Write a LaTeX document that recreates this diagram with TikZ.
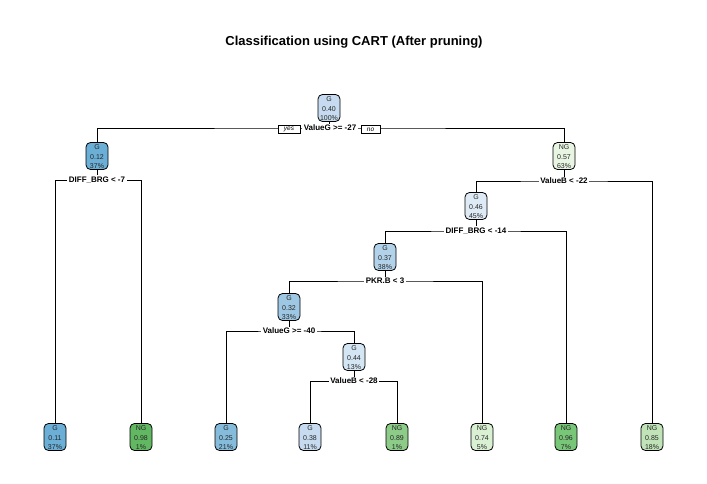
\documentclass[tikz,border=0pt]{standalone}
\usepackage{fontspec}
\setmainfont{Liberation Sans}
\definecolor{txt}{HTML}{262626}
\definecolor{cRoot}{HTML}{C6DBEF}
\definecolor{cA}{HTML}{6BAED6}
\definecolor{cB}{HTML}{E8F5E2}
\definecolor{cC}{HTML}{DEEBF7}
\definecolor{cD}{HTML}{B2D2EA}
\definecolor{cE}{HTML}{9DC7E2}
\definecolor{cF}{HTML}{D4E5F4}
\definecolor{lA}{HTML}{6BAED6}
\definecolor{lB}{HTML}{62B862}
\definecolor{lC}{HTML}{85BCDC}
\definecolor{lD}{HTML}{C6DBEF}
\definecolor{lE}{HTML}{8CCB88}
\definecolor{lF}{HTML}{D9F0D3}
\definecolor{lG}{HTML}{78C678}
\definecolor{lH}{HTML}{C0E4B8}
\newcommand\tn[5]{\node[tbox,fill=#5] (#1) at (#2,#3) {};\node[ttext] (#1t) at (#1.center) {#4};}
\begin{document}
\begin{tikzpicture}[x=1pt,y=-1pt,
  tbox/.style={draw=black, line width=0.8pt, rounded corners=4.5pt, minimum width=22pt, minimum height=27pt, inner sep=0pt},
  ttext/.style={align=center, font=\fontsize{7}{9.5}\selectfont, text=txt, inner sep=0pt, yshift=-0.6pt},
  splitlbl/.style={fill=white, text=black, font=\bfseries\fontsize{8}{9}\selectfont, inner sep=1.5pt},
  edge/.style={draw=black, line width=0.7pt},
  yn/.style={draw=black, fill=white, line width=0.6pt, font=\itshape\fontsize{6.5}{7}\selectfont, minimum height=8pt, inner sep=0.5pt}]
\useasboundingbox (0,0) rectangle (707,484);
\node[font=\bfseries\fontsize{13}{15}\selectfont] (title) at (354,42) {Classification using CART (After pruning)};
% inner nodes
\tn{n1}{329}{108}{G\\0.40\\100\%}{cRoot}
\tn{n2}{97}{156}{G\\0.12\\37\%}{cA}
\tn{n3}{564}{156}{NG\\0.57\\63\%}{cB}
\tn{n4}{476}{206}{G\\0.46\\45\%}{cC}
\tn{n5}{385}{257}{G\\0.37\\38\%}{cD}
\tn{n6}{289}{307}{G\\0.32\\33\%}{cE}
\tn{n7}{354}{357}{G\\0.44\\13\%}{cF}
% leaves
\tn{l1}{55}{437}{G\\0.11\\37\%}{lA}
\tn{l2}{141}{437}{NG\\0.98\\1\%}{lB}
\tn{l3}{226}{437}{G\\0.25\\21\%}{lC}
\tn{l4}{310}{437}{G\\0.38\\11\%}{lD}
\tn{l5}{397}{437}{NG\\0.89\\1\%}{lE}
\tn{l6}{482}{437}{NG\\0.74\\5\%}{lF}
\tn{l7}{566}{437}{NG\\0.96\\7\%}{lG}
\tn{l8}{652}{437}{NG\\0.85\\18\%}{lH}
% split points
\coordinate (s1) at (329,128);
\coordinate (s2) at (97,180);
\coordinate (s3) at (564,181);
\coordinate (s4) at (476,231);
\coordinate (s5) at (385,281);
\coordinate (s6) at (289,331);
\coordinate (s7) at (354,381);
% connectors
\draw[edge] (n1.south) -- (s1);
\draw[edge] (n2.north) |- (s1) -| (n3.north);
\draw[edge] (n2.south) -- (s2);
\draw[edge] (l1.north) |- (s2) -| (l2.north);
\draw[edge] (n3.south) -- (s3);
\draw[edge] (n4.north) |- (s3) -| (l8.north);
\draw[edge] (n4.south) -- (s4);
\draw[edge] (n5.north) |- (s4) -| (l7.north);
\draw[edge] (n5.south) -- (s5);
\draw[edge] (n6.north) |- (s5) -| (l6.north);
\draw[edge] (n6.south) -- (s6);
\draw[edge] (l3.north) |- (s6) -| (n7.north);
\draw[edge] (n7.south) -- (s7);
\draw[edge] (l4.north) |- (s7) -| (l5.north);
% split labels
\node[splitlbl] (t1) at (330,128) {ValueG >= -27};
\node[yn, minimum width=22pt] (yes) at (289,129.5) {yes};
\node[yn, minimum width=19pt] (no) at (370.5,129.5) {no};
\node[splitlbl] (t2) at (97,180) {DIFF\_BRG < -7};
\node[splitlbl] (t3) at (564,181) {ValueB < -22};
\node[splitlbl] (t4) at (476,231) {DIFF\_BRG < -14};
\node[splitlbl] (t5) at (385,281) {PKR.B < 3};
\node[splitlbl] (t6) at (289,331) {ValueG >= -40};
\node[splitlbl] (t7) at (354,381) {ValueB < -28};
\end{tikzpicture}
\end{document}
